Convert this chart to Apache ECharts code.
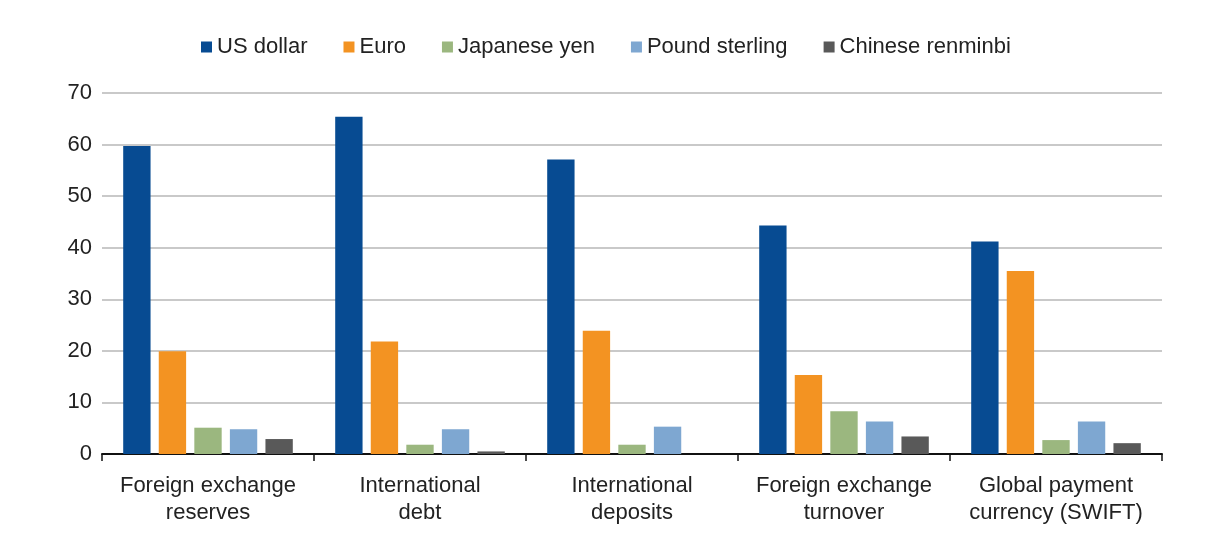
<!DOCTYPE html>
<html>
<head>
<meta charset="utf-8">
<script src="https://cdn.jsdelivr.net/npm/echarts@6/dist/echarts.min.js"></script>
<style>html,body{margin:0;padding:0;background:#fff}#c{width:1210px;height:546px}</style>
</head>
<body>
<div id="c"></div>
<script>
const categories = ['Foreign exchange\nreserves', 'International\ndebt', 'International\ndeposits', 'Foreign exchange\nturnover', 'Global payment\ncurrency (SWIFT)'];
const usDollar = [59.7, 65.4, 57.1, 44.3, 41.2];
const euro = [19.9, 21.8, 23.9, 15.3, 35.5];
const japaneseYen = [5.1, 1.8, 1.8, 8.3, 2.7];
const poundSterling = [4.8, 4.8, 5.3, 6.3, 6.3];
const chineseRenminbi = [2.9, 0.5, 0, 3.4, 2.1];
const yTicks = [0, 10, 20, 30, 40, 50, 60, 70];

const FONT = '"Liberation Sans", Arial, sans-serif';
const seriesDefs = [
  ['US dollar', usDollar, '#074b92'],
  ['Euro', euro, '#f39322'],
  ['Japanese yen', japaneseYen, '#9bb77f'],
  ['Pound sterling', poundSterling, '#7ea7d1'],
  ['Chinese renminbi', chineseRenminbi, '#595959']
];

const chart = echarts.init(document.getElementById('c'), null, {renderer: 'canvas'});
chart.setOption({
  backgroundColor: '#ffffff',
  animation: false,
  textStyle: {fontFamily: FONT},
  legend: {
    top: 31,
    left: 196,
    itemWidth: 11,
    itemHeight: 11,
    itemGap: 36,
    icon: 'rect',
    textStyle: {fontSize: 22, color: '#222', fontFamily: FONT},
    data: seriesDefs.map(s => s[0])
  },
  grid: {left: 102, right: 48, top: 93, bottom: 92, containLabel: false},
  xAxis: {
    type: 'category',
    data: categories,
    axisLine: {lineStyle: {color: '#111', width: 2}},
    axisTick: {show: true, length: 7, lineStyle: {color: '#111', width: 1.5}},
    axisLabel: {fontSize: 22, color: '#222', fontFamily: FONT, lineHeight: 27, margin: 18, interval: 0}
  },
  yAxis: {
    type: 'value',
    min: yTicks[0],
    max: yTicks[yTicks.length - 1],
    interval: 10,
    axisLine: {show: false},
    axisTick: {show: false},
    axisLabel: {fontSize: 22, color: '#222', fontFamily: FONT, margin: 10},
    splitLine: {lineStyle: {color: '#c9c9c9', width: 2}}
  },
  series: seriesDefs.map(([name, data, color]) => ({
    name: name,
    type: 'bar',
    data: data,
    itemStyle: {color: color},
    barGap: '30%',
    barCategoryGap: '20%'
  }))
});
</script>
</body>
</html>
